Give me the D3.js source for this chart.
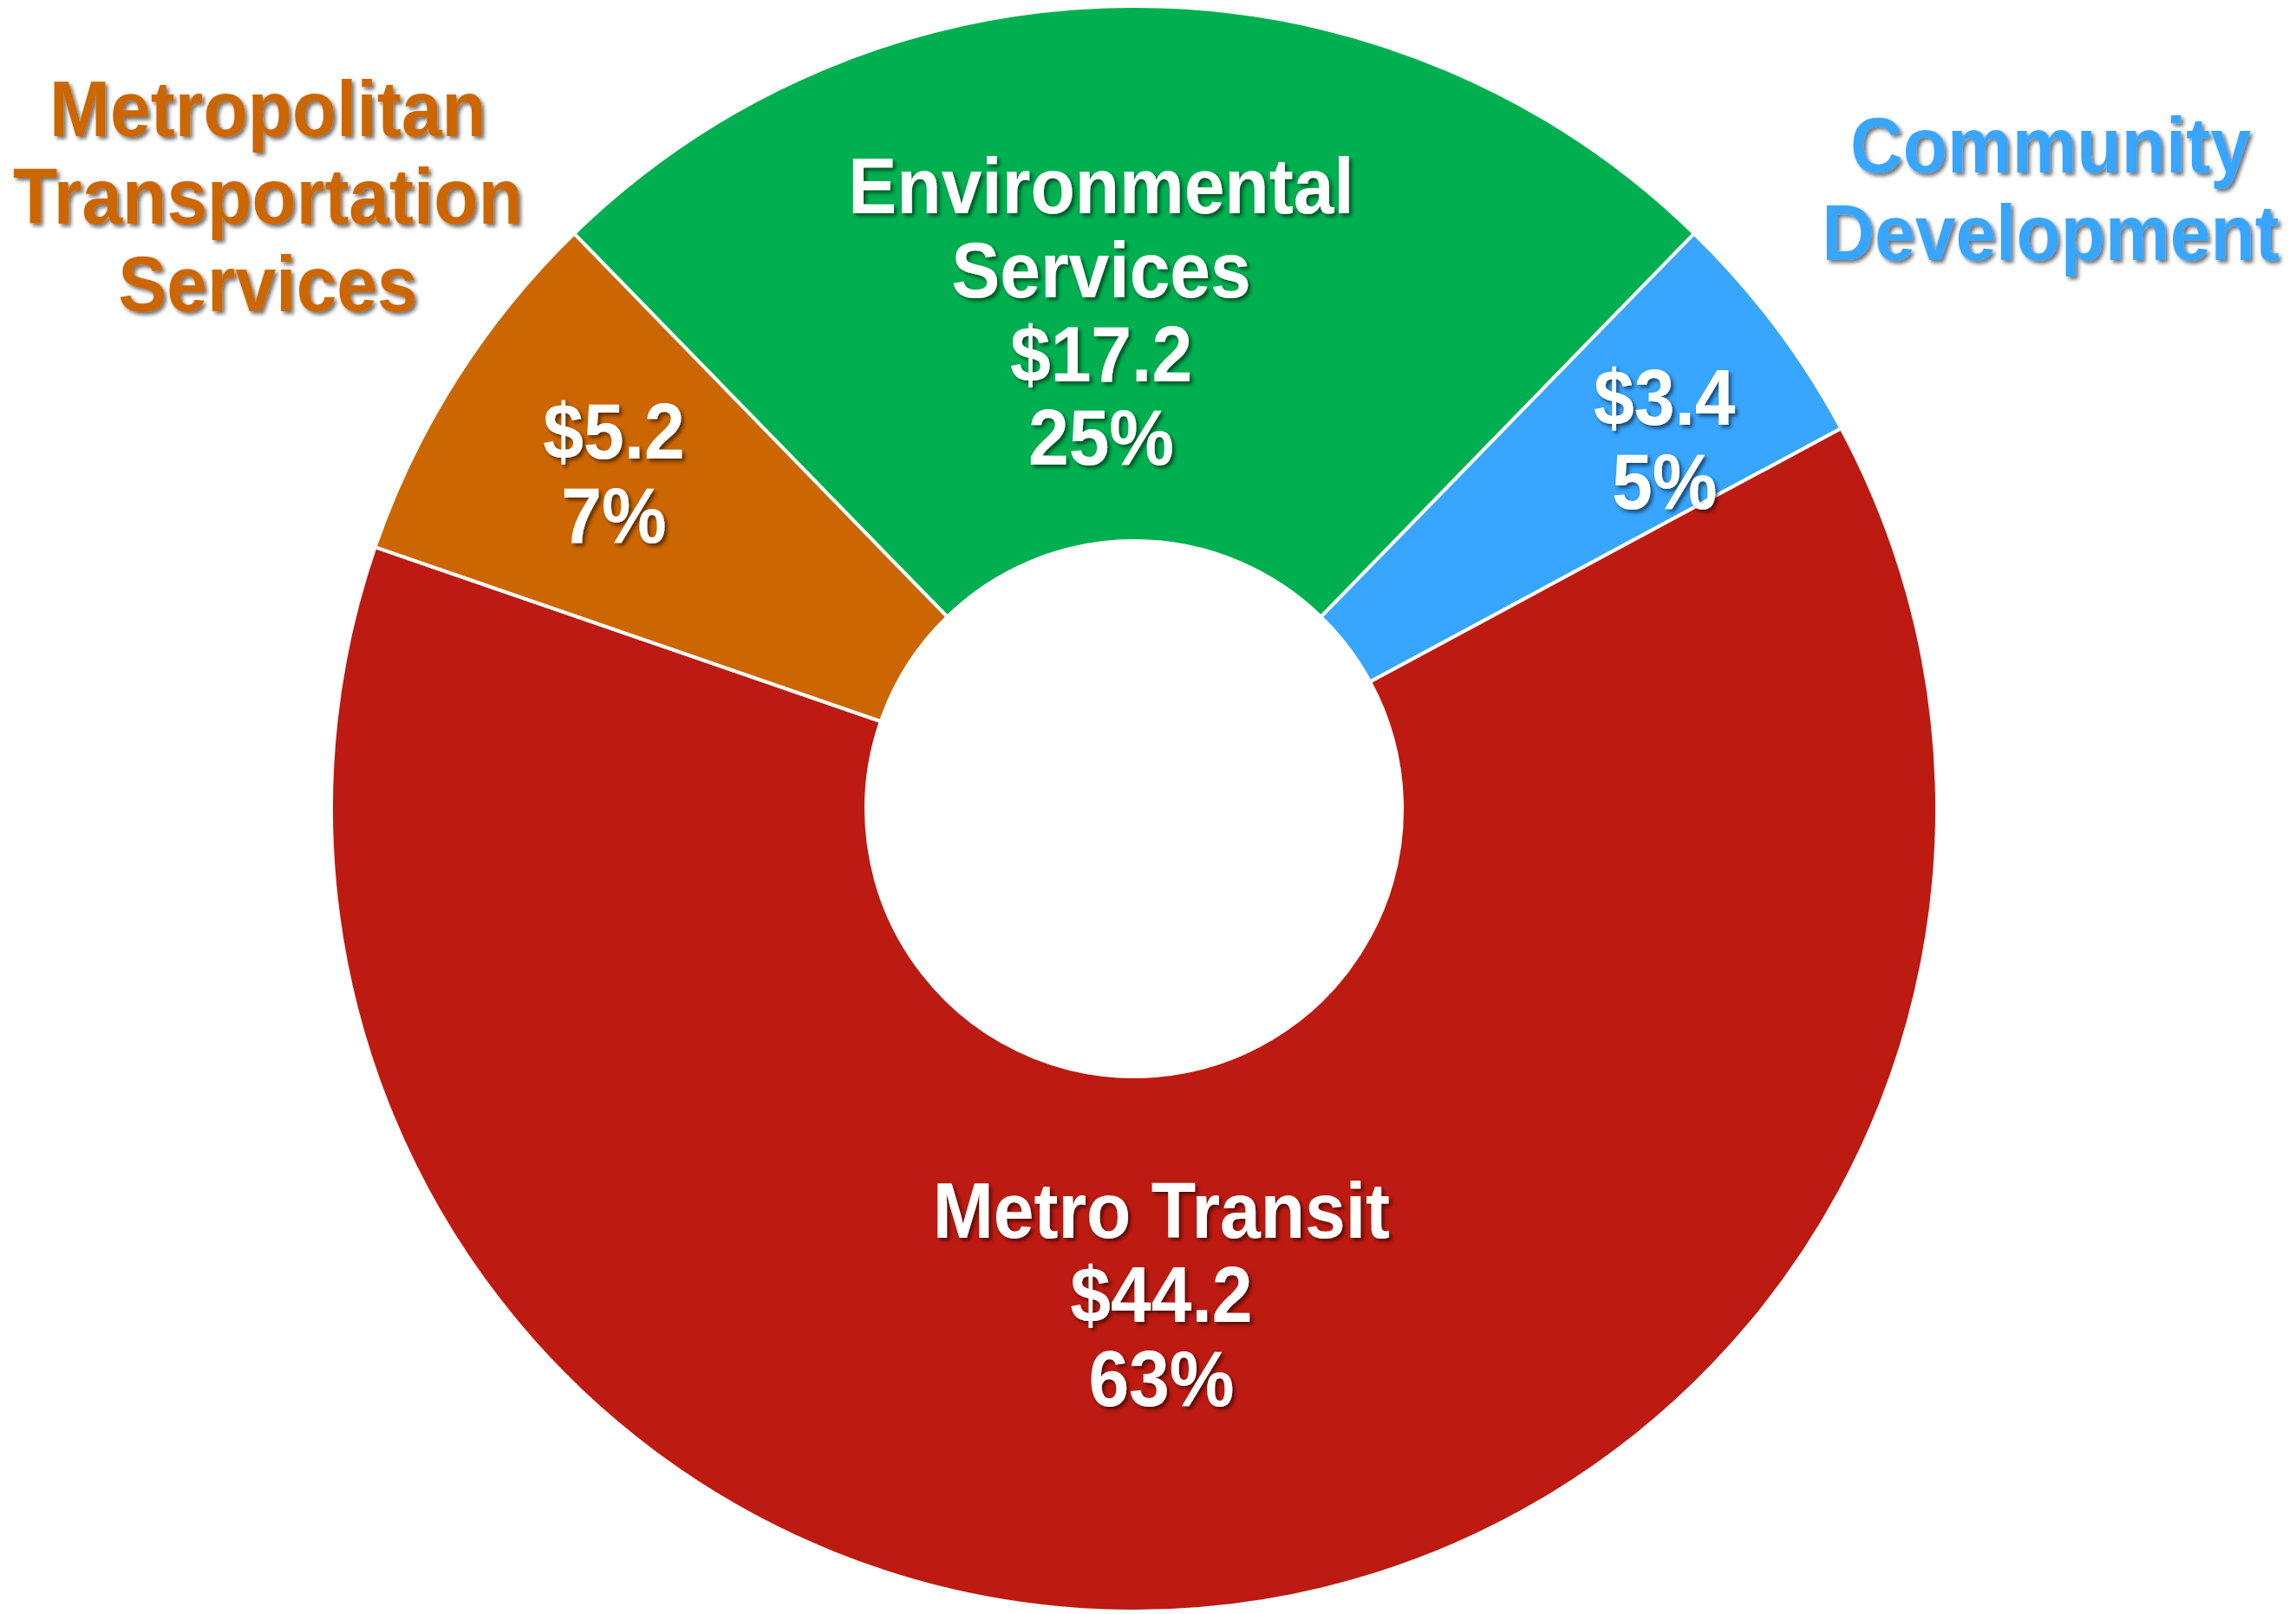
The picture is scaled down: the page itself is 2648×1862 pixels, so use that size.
<!DOCTYPE html>
<html>
<head>
<meta charset="utf-8">
<style>
  body { margin: 0; background: #fff; }
  svg { display: block; }
</style>
<script src="https://cdn.jsdelivr.net/npm/d3@7"></script>
</head>
<body>
<svg width="2648" height="1862" font-family="'Liberation Sans', Arial, sans-serif" font-weight="bold" text-anchor="middle"></svg>
<script>

// slices, clockwise from the top-left edge of the green one
var categories = ["Environmental Services", "Community Development", "Metro Transit", "Metropolitan Transportation Services"];
var values = [17.2, 3.4, 44.2, 5.2];
var colors = ["#00B050", "#38A5FF", "#BD1A11", "#CC6600"];

// name lines drawn inside a slice (others are labelled outside)
var innerNames = [["Environmental", "Services"], [], ["Metro Transit"], []];
var outerNames = [[], ["Community", "Development"], [], ["Metropolitan", "Transportation", "Services"]];

var svg = d3.select("svg"),
    width = +svg.attr("width"),
    height = +svg.attr("height");

var cx = 1308, cy = 933,
    outerR = 926, innerR = 309;

var total = d3.sum(values);
var money = function(v) { return "$" + d3.format(".1f")(v); };
var pct = d3.format(".0%");

var defs = svg.append("defs");
defs.append("filter").attr("id", "shadow")
    .attr("x", "-10%").attr("y", "-10%").attr("width", "120%").attr("height", "130%")
  .append("feDropShadow")
    .attr("dx", 3).attr("dy", 3).attr("stdDeviation", 2)
    .attr("flood-color", "#000").attr("flood-opacity", 0.55);

var pie = d3.pie()
    .sort(null)
    .startAngle(-Math.PI * values[0] / total)
    .endAngle(2 * Math.PI - Math.PI * values[0] / total)
    .value(function(d) { return d.value; });

var arc = d3.arc().innerRadius(innerR).outerRadius(outerR);

var rows = categories.map(function(c, i) {
  return {name: c, value: values[i], color: colors[i], inner: innerNames[i], outer: outerNames[i]};
});

var g = svg.append("g").attr("transform", "translate(" + cx + "," + cy + ")");

var arcs = pie(rows);

g.selectAll("path.slice")
  .data(arcs)
  .enter().append("path")
    .attr("class", "slice")
    .attr("d", arc)
    .attr("fill", function(d) { return d.data.color; })
    .attr("stroke", "#fff")
    .attr("stroke-width", 4)
    .attr("stroke-linejoin", "miter");

// label placement inside the ring
var labelR = [572, 745, 563, 713];
var labelShift = [[-38, 0], [17, 24], [-14, 1], [2, -3]];
var fontSize = 84, lineH = 97, capHalf = 30, stretch = 1.08;

// text block centred on (x, y), slightly taller glyphs like the original
function block(parent, x, y, lines, lh, fill) {
  var t = parent.append("text")
      .attr("transform", "translate(" + x + "," + y + ") scale(1," + stretch + ")")
      .attr("font-size", fontSize)
      .attr("fill", fill)
      .attr("filter", "url(#shadow)");
  var top = -(lines.length - 1) * lh / 2 / stretch;
  lines.forEach(function(s, j) {
    t.append("tspan").attr("x", 0).attr("y", top + j * lh / stretch + capHalf / stretch * 1).text(s);
  });
}

arcs.forEach(function(d, i) {
  var la = d3.arc().innerRadius(labelR[i]).outerRadius(labelR[i]);
  var c = la.centroid(d);
  var lines = d.data.inner.concat([money(d.data.value), pct(d.data.value / total)]);
  block(g, c[0] + labelShift[i][0], c[1] + labelShift[i][1], lines, lineH, "#fff");
});

// outside category labels: [x, first line centre, line height]
var outerPos = [null, [2365, 169, 101], null, [309, 127, 101]];
rows.forEach(function(r, i) {
  if (!r.outer.length) return;
  var p = outerPos[i];
  var n = r.outer.length;
  block(svg, p[0], p[1] + (n - 1) * p[2] / 2, r.outer, p[2], r.color);
});

</script>
</body>
</html>
